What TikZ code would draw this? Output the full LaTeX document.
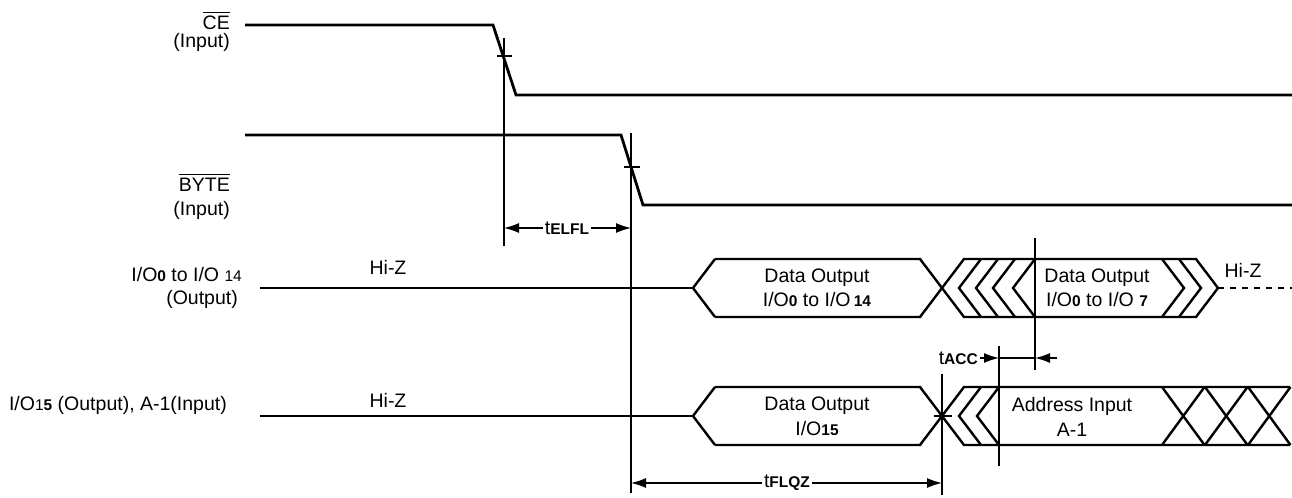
\documentclass[tikz,border=0pt]{standalone}
\usepackage{fontspec}
\setmainfont{Liberation Sans}
\usetikzlibrary{arrows.meta}
\newcommand{\sbf}[1]{{\fontsize{15.5bp}{15.5bp}\selectfont\bfseries #1}}
\newcommand{\ssm}[1]{{\fontsize{15.5bp}{15.5bp}\selectfont #1}}
\begin{document}
\begin{tikzpicture}[x=1bp,y=-1bp,
  sig/.style={line width=2.8bp, line join=miter},
  bus/.style={line width=2.4bp, line join=miter},
  thin/.style={line width=1.3bp},
  lbl/.style={inner sep=0pt, font=\fontsize{19.5bp}{23bp}\selectfont},
  dimlbl/.style={inner sep=2bp, font=\fontsize{19.5bp}{23bp}\selectfont},
  dim/.style={thin, -{Latex[length=15bp,width=10bp]}},
]
\useasboundingbox (0,0) rectangle (1292,498);

% ---------- signal names ----------
\node[lbl, anchor=base east] (ce) at (230,30) {CE};
\draw[thin] ([yshift=4bp]ce.north west) -- ([yshift=4bp]ce.north east);
\node[lbl, anchor=base east] (cein) at (230,48) {(Input)};
\node[lbl, anchor=base east] (byte) at (230,192) {BYTE};
\draw[thin] ([yshift=4bp]byte.north west) -- ([yshift=4bp]byte.north east);
\node[lbl, anchor=base east] (bytein) at (230,216) {(Input)};
\node[lbl, anchor=base east] (io) at (242,282) {I/O\sbf{0} to I/O \ssm{14}};
\node[lbl, anchor=base east] (ioout) at (238,305) {(Output)};
\node[lbl, anchor=base east] (io15) at (227,410) {I/O\ssm{1}\sbf{5} (Output), A-1(Input)};

% ---------- CE and BYTE ----------
\draw[sig] (245,25) -- (493,25) -- (516,95) -- (1292,95);
\draw[sig] (245,135) -- (621,135) -- (643,205) -- (1292,205);

% ---------- I/O0-14 row ----------
\draw[sig] (260,288) -- (693,288);
\node[lbl, anchor=base] (hiz1) at (388,275) {Hi-Z};
\draw[bus] (715,259) -- (693,288) -- (715,317);
\draw[bus] (715,259) -- (920,259) -- (964,317) -- (1196,317) -- (1218,288)
  -- (1196,259) -- (964,259) -- (920,317) -- (715,317);
\foreach \t in {959,976,993,1013}
  \draw[bus] (\t+22,259) -- (\t,288) -- (\t+22,317);
\foreach \t in {1162,1179}
  \draw[bus] (\t,259) -- (\t+22,288) -- (\t,317);
\draw[bus, dash pattern=on 6bp off 6bp] (1218,288) -- (1292,288);
\node[lbl, anchor=base] (hiz3) at (1243,278) {Hi-Z};
\node[lbl, anchor=base] (d1a) at (817,283) {Data Output};
\node[lbl, anchor=base] (d1b) at (817,307) {I/O\sbf{0} to I/O\,\sbf{14}};
\node[lbl, anchor=base] (d2a) at (1097,283) {Data Output};
\node[lbl, anchor=base] (d2b) at (1097,307) {I/O\sbf{0} to I/O \sbf{7}};

% ---------- I/O15 row ----------
\draw[sig] (260,416) -- (693,416);
\node[lbl, anchor=base] (hiz2) at (388,407) {Hi-Z};
\draw[bus] (715,387) -- (693,416) -- (715,445);
\draw[bus] (715,387) -- (920,387) -- (964,445) -- (1290,445);
\draw[bus] (715,445) -- (920,445) -- (964,387) -- (1290,387);
\foreach \t in {959,977}
  \draw[bus] (\t+22,387) -- (\t,416) -- (\t+22,445);
\foreach \t in {1162,1205,1248}
  \draw[bus] (\t,387) -- (\t+42.5,445) (\t,445) -- (\t+42.5,387);
\node[lbl, anchor=base] (d3a) at (817,410) {Data Output};
\node[lbl, anchor=base] (d3b) at (817,435) {I/O\sbf{15}};
\node[lbl, anchor=base] (a1a) at (1072,411) {Address Input};
\node[lbl, anchor=base] (a1b) at (1072,436) {A-1};

% ---------- timing markers ----------
\coordinate (m1t) at (504,38);  \coordinate (m1b) at (504,246);
\coordinate (m2t) at (631,133); \coordinate (m2b) at (631,493);
\coordinate (m3t) at (942,374); \coordinate (m3b) at (942,495);
\coordinate (m4t) at (999,346); \coordinate (m4b) at (999,466);
\coordinate (m5t) at (1035,238); \coordinate (m5b) at (1035,370);
\draw[thin] (m1t) -- (m1b);
\draw[thin] (m2t) -- (m2b);
\draw[thin] (m3t) -- (m3b);
\draw[thin] (m4t) -- (m4b);
\draw[thin] (m5t) -- (m5b);
\draw[thin] (497,56) -- (512,56);
\draw[thin] (624,167) -- (640,167);
\draw[thin] (934,416) -- (952,416);

% tELFL
\node[dimlbl] (telfl) at (567,228) {t\sbf{ELFL}};
\coordinate (e1) at (504,228); \coordinate (e2) at (631,228);
\draw[dim] (telfl) -- (e1);
\draw[dim] (telfl) -- (e2);

% tACC
\node[dimlbl, anchor=east] (tacc) at (980,358) {t\sbf{ACC}};
\coordinate (a1) at (999,358); \coordinate (a2) at (1035,358); \coordinate (a3) at (1057,358);
\draw[dim] (tacc) -- (a1);
\draw[thin] (a1) -- (a2);
\draw[dim] (a3) -- (a2);

% tFLQZ
\node[dimlbl] (tflqz) at (787,483) {t\sbf{FLQZ}};
\coordinate (f1) at (631,483); \coordinate (f2) at (942,483);
\draw[dim] (tflqz) -- (f1);
\draw[dim] (tflqz) -- (f2);
\end{tikzpicture}
\end{document}
